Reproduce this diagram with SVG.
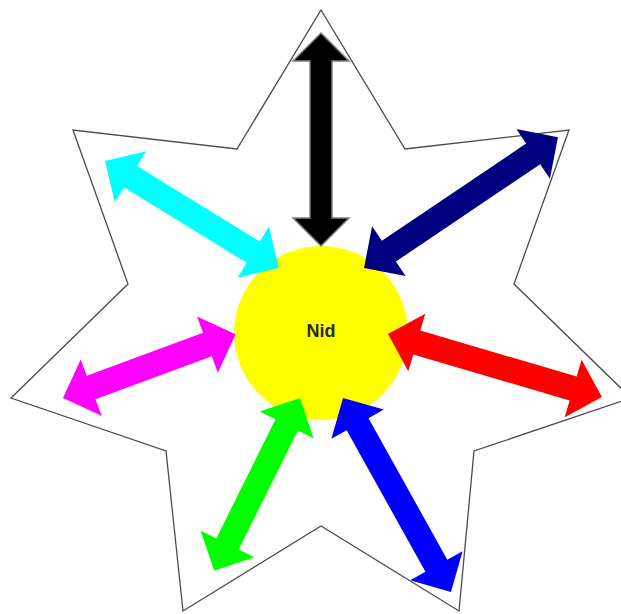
<svg xmlns="http://www.w3.org/2000/svg" width="621" height="614" viewBox="0 0 621 614">
  <style>
    .star { fill: none; stroke: #4a4a4a; stroke-width: 1.3; stroke-linejoin: miter; }
    .blob { fill: #ffff00; }
    .arrow { stroke: none; }
    .label { font-family: "Liberation Sans", Arial, sans-serif; font-size: 18px; font-weight: bold; fill: #2a2a10; text-anchor: middle; dominant-baseline: central; }
  </style>
  <rect width="621" height="614" fill="#ffffff"/>
  <g id="star-outline">
    <polygon class="star" points="321,10 405,149 569,130 514,284 631,398 474,451 459,611 321,526 183,611 166,451 11,398 128,284 73,130 237,149"/>
  </g>
  <g id="node-nid">
    <circle class="blob" cx="321" cy="333" r="87"/>
    <text class="label" x="321" y="331">Nid</text>
  </g>
  <g id="connectors">
    <path id="arrow-black" fill="#000000" stroke="#808080" stroke-width="1.5" d="M0,0 L28,-28 L28,-11 L185,-11 L185,-28 L213,0 L185,28 L185,11 L28,11 L28,28 Z" transform="translate(321,33) rotate(90)"/>
    <path id="arrow-cyan" class="arrow" fill="#00ffff" d="M0,0 L30,-30 L30,-12.5 L174,-12.5 L174,-30 L204,0 L174,30 L174,12.5 L30,12.5 L30,30 Z" transform="translate(105,161) rotate(31.6)"/>
    <path id="arrow-navy" class="arrow" fill="#000080" d="M0,0 L30,-30 L30,-12.5 L204,-12.5 L204,-30 L234,0 L204,30 L204,12.5 L30,12.5 L30,30 Z" transform="translate(364,268) rotate(-34)"/>
    <path id="arrow-magenta" class="arrow" fill="#ff00ff" d="M0,0 L30,-30 L30,-12.5 L154,-12.5 L154,-30 L184,0 L154,30 L154,12.5 L30,12.5 L30,30 Z" transform="translate(63,398) rotate(-20.3)"/>
    <path id="arrow-red" class="arrow" fill="#ff0000" d="M0,0 L30,-30 L30,-12.5 L193,-12.5 L193,-30 L223,0 L193,30 L193,12.5 L30,12.5 L30,30 Z" transform="translate(388,334) rotate(16.4)"/>
    <path id="arrow-green" class="arrow" fill="#00ff00" d="M0,0 L30,-30 L30,-12.5 L163,-12.5 L163,-30 L193,0 L163,30 L163,12.5 L30,12.5 L30,30 Z" transform="translate(300,398) rotate(116.4)"/>
    <path id="arrow-blue" class="arrow" fill="#0000ff" d="M0,0 L30,-30 L30,-12.5 L192,-12.5 L192,-30 L222,0 L192,30 L192,12.5 L30,12.5 L30,30 Z" transform="translate(343,398) rotate(60.9)"/>
  </g>
</svg>
